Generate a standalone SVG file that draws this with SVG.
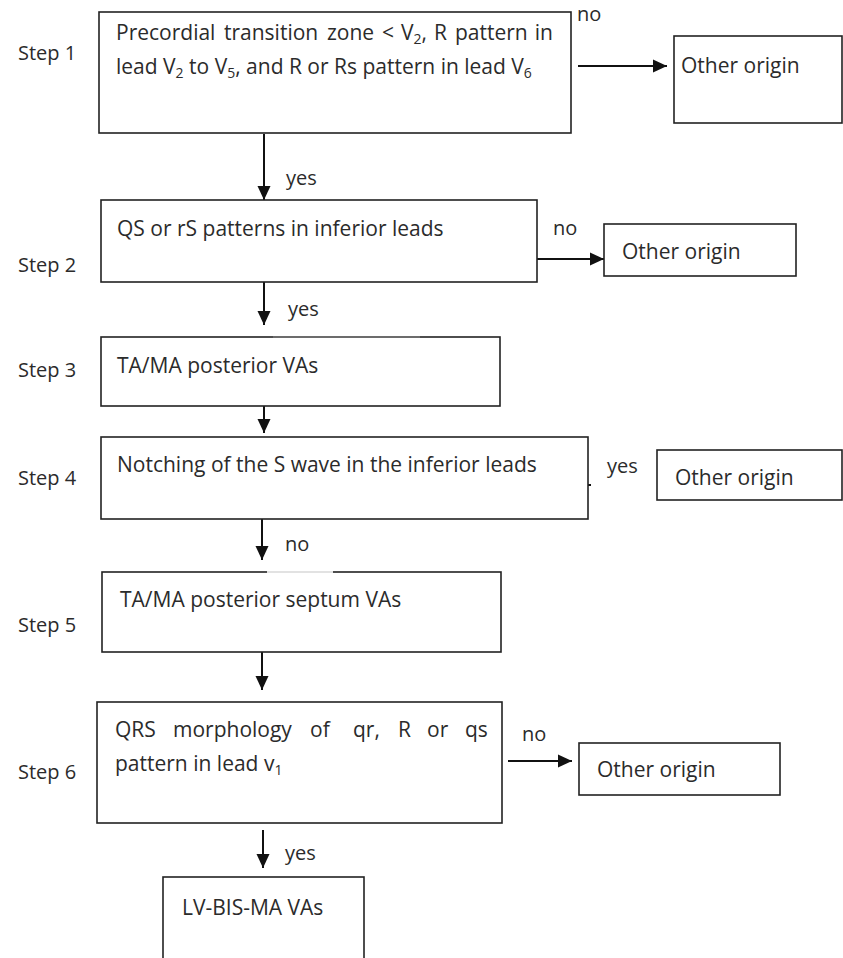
<svg xmlns="http://www.w3.org/2000/svg" width="843" height="958" viewBox="0 0 843 958">
<defs>
<style>
.box{fill:#fff;stroke:#222;stroke-width:1.6}
.t{font-family:"Open Sans","Noto Sans",sans-serif;font-size:21px;fill:#2b2b2b}
.s{font-family:"Open Sans","Noto Sans",sans-serif;font-size:20px;fill:#2b2b2b}
.sub{font-size:14px}
.conn{stroke:#111;stroke-width:2;fill:none}
</style>
<marker id="ah" markerUnits="userSpaceOnUse" markerWidth="14" markerHeight="14" viewBox="0 0 14 14" refX="14" refY="7" orient="auto">
<path d="M0,0.5 L14,7 L0,13.5 z" fill="#111"/>
</marker>
</defs>
<rect width="843" height="958" fill="#fff"/>

<g id="step-labels">
<text class="s" x="18" y="60">Step 1</text>
<text class="s" x="18" y="272">Step 2</text>
<text class="s" x="18" y="377">Step 3</text>
<text class="s" x="18" y="485">Step 4</text>
<text class="s" x="18" y="632">Step 5</text>
<text class="s" x="18" y="779">Step 6</text>
</g>

<g id="connectors">
<line class="conn" x1="578" y1="66" x2="667" y2="66" marker-end="url(#ah)"/>
<line class="conn" x1="264" y1="134" x2="264" y2="200" marker-end="url(#ah)"/>
<line class="conn" x1="537" y1="259" x2="604" y2="259" marker-end="url(#ah)"/>
<line class="conn" x1="264" y1="282" x2="264" y2="325" marker-end="url(#ah)"/>
<line class="conn" x1="264" y1="406" x2="264" y2="433" marker-end="url(#ah)"/>
<line class="conn" x1="588" y1="485" x2="591" y2="485"/>
<line class="conn" x1="262" y1="519" x2="262" y2="560" marker-end="url(#ah)"/>
<line class="conn" x1="262" y1="652" x2="262" y2="690" marker-end="url(#ah)"/>
<line class="conn" x1="508" y1="761" x2="572" y2="761" marker-end="url(#ah)"/>
<line class="conn" x1="263" y1="830" x2="263" y2="868" marker-end="url(#ah)"/>
</g>

<g id="edge-labels">
<text class="s" x="577" y="21">no</text>
<text class="s" x="286" y="185">yes</text>
<text class="s" x="553" y="235">no</text>
<text class="s" x="288" y="316">yes</text>
<text class="s" x="607" y="473">yes</text>
<text class="s" x="285" y="551">no</text>
<text class="s" x="522" y="741">no</text>
<text class="s" x="285" y="860">yes</text>
</g>

<g id="step1">
<rect class="box" x="99" y="12" width="472" height="121"/>
<text class="t" y="40"><tspan x="116">Precordial</tspan><tspan x="224">transition</tspan><tspan x="327">zone</tspan><tspan x="382">&lt;</tspan><tspan x="401">V</tspan><tspan class="sub" dy="4">2</tspan><tspan dy="-4">,</tspan><tspan x="434">R</tspan><tspan x="455">pattern</tspan></text>
<text class="t" x="553" y="40" text-anchor="end">in</text>
<text class="t" x="116" y="74">lead V<tspan class="sub" dy="4">2</tspan><tspan dy="-4"> to V</tspan><tspan class="sub" dy="4">5</tspan><tspan dy="-4">, and R or Rs pattern in lead V</tspan><tspan class="sub" dy="4">6</tspan></text>
</g>

<g id="other1">
<rect class="box" x="674" y="36" width="168" height="87"/>
<text class="t" x="681" y="73">Other origin</text>
</g>

<g id="step2">
<rect class="box" x="101" y="200" width="436" height="82"/>
<text class="t" x="117" y="236">QS or rS patterns in inferior leads</text>
</g>

<g id="other2">
<rect class="box" x="604" y="224" width="192" height="52"/>
<text class="t" x="622" y="259">Other origin</text>
</g>

<g id="step3">
<rect class="box" x="101" y="337" width="399" height="69"/>
<line x1="273" y1="337" x2="420" y2="337" stroke="#777" stroke-width="1.6"/>
<text class="t" x="117" y="373">TA/MA posterior VAs</text>
</g>

<g id="step4">
<rect class="box" x="101" y="437" width="487" height="82"/>
<text class="t" x="117" y="472">Notching of the S wave in the inferior leads</text>
</g>

<g id="other4">
<rect class="box" x="657" y="450" width="185" height="50"/>
<text class="t" x="675" y="485">Other origin</text>
</g>

<g id="step5">
<rect class="box" x="102" y="572" width="399" height="80"/>
<line x1="267" y1="572" x2="333" y2="572" stroke="#e2e2e2" stroke-width="2"/>
<text class="t" x="120" y="607">TA/MA posterior septum VAs</text>
</g>

<g id="step6">
<rect class="box" x="97" y="702" width="405" height="121"/>
<text class="t" y="737"><tspan x="115">QRS</tspan><tspan x="173">morphology</tspan><tspan x="310">of</tspan><tspan x="353">qr,</tspan><tspan x="398">R</tspan><tspan x="427">or</tspan><tspan x="465">qs</tspan></text>
<text class="t" x="115" y="771">pattern in lead v<tspan class="sub" dy="4">1</tspan></text>
</g>

<g id="other6">
<rect class="box" x="579" y="743" width="201" height="52"/>
<text class="t" x="597" y="777">Other origin</text>
</g>

<g id="result">
<rect class="box" x="163" y="877" width="201" height="100"/>
<text class="t" x="182" y="915">LV-BIS-MA VAs</text>
</g>
</svg>
